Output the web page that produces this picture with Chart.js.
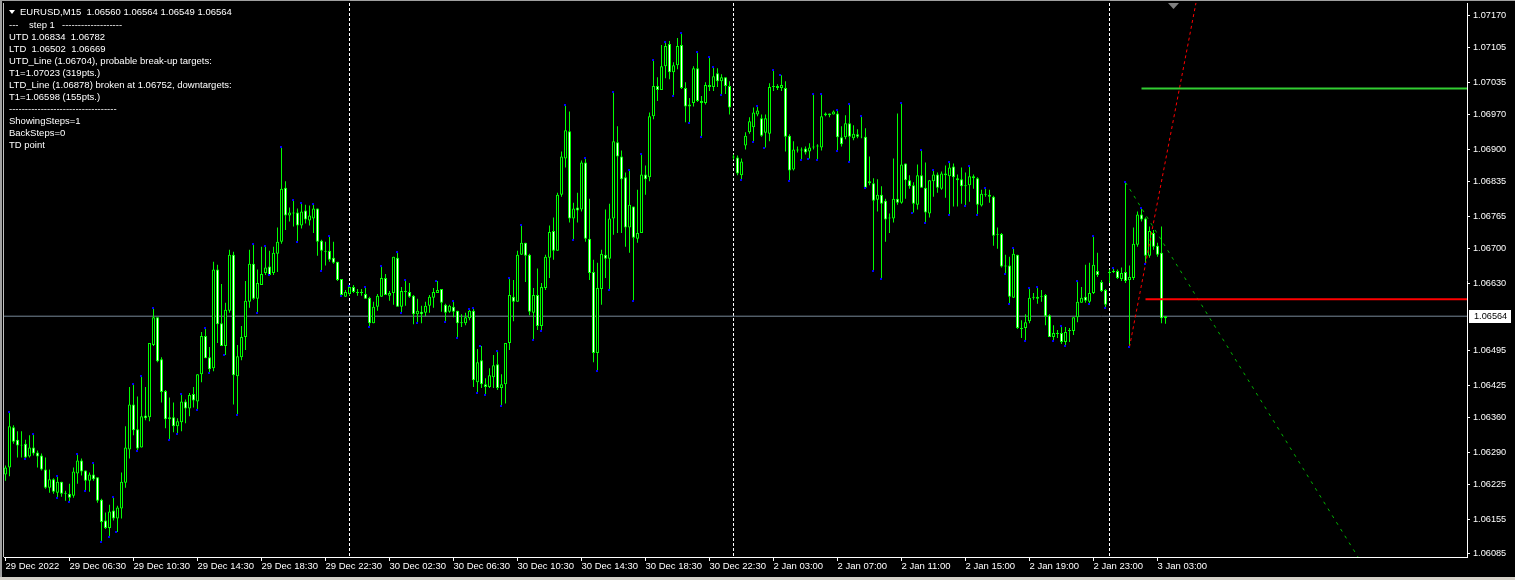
<!DOCTYPE html>
<html>
<head>
<meta charset="utf-8">
<title>EURUSD,M15</title>
<script src="https://cdn.jsdelivr.net/npm/chart.js@4.4.0/dist/chart.umd.min.js"></script>
<style>
  html, body { margin: 0; padding: 0; background: #000; overflow: hidden; }
  #wrap { position: relative; width: 1515px; height: 580px; }
</style>
</head>
<body>
<div id="wrap"><canvas id="chart" width="1515" height="580"></canvas></div>
<script>
// EURUSD M15, 29 Dec 2022 02:30 .. 3 Jan 2023 03:30, one entry per bar
const openP = [
  1.06245,1.06259,1.06340,1.06315,1.06303,1.06307,1.06281,1.06299,1.06289,1.06283,
  1.06255,1.06218,1.06235,1.06208,1.06230,1.06206,1.06206,1.06202,1.06247,1.06273,
  1.06253,1.06232,1.06245,1.06239,1.06194,1.06152,1.06137,1.06172,1.06156,1.06176,
  1.06228,1.06295,1.06386,1.06336,1.06299,1.06364,1.06360,1.06506,1.06562,1.06477,
  1.06413,1.06356,1.06360,1.06342,1.06350,1.06392,1.06378,1.06407,1.06392,1.06447,
  1.06524,1.06481,1.06459,1.06658,1.06550,1.06504,1.06575,1.06688,1.06443,1.06481,
  1.06522,1.06593,1.06670,1.06599,1.06627,1.06651,1.06664,1.06651,1.06690,1.06714,
  1.06823,1.06767,1.06773,1.06773,1.06747,1.06777,1.06757,1.06761,1.06781,1.06716,
  1.06696,1.06696,1.06682,1.06674,1.06639,1.06603,1.06609,1.06623,1.06613,1.06611,
  1.06609,1.06601,1.06550,1.06583,1.06603,1.06641,1.06605,1.06611,1.06682,1.06583,
  1.06615,1.06613,1.06605,1.06568,1.06573,1.06571,1.06585,1.06601,1.06611,1.06619,
  1.06587,1.06573,1.06583,1.06575,1.06550,1.06550,1.06560,1.06575,1.06431,1.06475,
  1.06427,1.06421,1.06441,1.06467,1.06419,1.06427,1.06510,1.06603,1.06593,1.06688,
  1.06712,1.06688,1.06571,1.06607,1.06544,1.06621,1.06682,1.06736,1.06696,1.06809,
  1.06882,1.06937,1.06761,1.06783,1.06779,1.06874,1.06720,1.06653,1.06490,1.06619,
  1.06688,1.06680,1.06761,1.06915,1.06886,1.06844,1.06743,1.06785,1.06720,1.06732,
  1.06850,1.06844,1.06967,1.07028,1.07020,1.07068,1.07113,1.07056,1.07070,1.07111,
  1.07024,1.06987,1.06994,1.07064,1.06998,1.06994,1.07030,1.07026,1.07054,1.07038,
  1.07046,1.07028,1.06886,1.06884,1.06848,1.06908,1.06935,1.06945,1.06971,1.06963,
  1.06934,1.06932,1.07026,1.07028,1.07024,1.07024,1.06928,1.06860,1.06900,1.06898,
  1.06902,1.06896,1.06904,1.06906,1.06904,1.06969,1.06973,1.06971,1.06973,1.06925,
  1.06925,1.06953,1.06923,1.06931,1.06926,1.06926,1.06832,1.06832,1.06799,1.06809,
  1.06797,1.06761,1.06761,1.06801,1.06793,1.06872,1.06838,1.06828,1.06789,1.06848,
  1.06823,1.06771,1.06836,1.06850,1.06821,1.06852,1.06846,1.06866,1.06842,1.06840,
  1.06826,1.06828,1.06846,1.06842,1.06787,1.06811,1.06809,1.06805,1.06728,1.06730,
  1.06664,1.06666,1.06601,1.06688,1.06540,1.06540,1.06554,1.06601,1.06603,1.06603,
  1.06607,1.06566,1.06522,1.06530,1.06530,1.06512,1.06534,1.06534,1.06562,1.06591,
  1.06603,1.06593,1.06611,1.06655,1.06633,1.06617,1.06651,1.06653,1.06655,1.06639,
  1.06653,1.06637,1.06641,1.06708,1.06769,1.06761,1.06686,1.06732,1.06706,1.06692,
  1.06560
];
const highP = [
  1.06263,1.06370,1.06344,1.06332,1.06332,1.06315,1.06324,1.06326,1.06293,1.06287,
  1.06279,1.06255,1.06237,1.06241,1.06230,1.06212,1.06226,1.06259,1.06287,1.06277,
  1.06253,1.06249,1.06267,1.06239,1.06196,1.06168,1.06184,1.06200,1.06182,1.06249,
  1.06342,1.06421,1.06427,1.06402,1.06443,1.06421,1.06510,1.06581,1.06562,1.06481,
  1.06415,1.06400,1.06390,1.06358,1.06407,1.06396,1.06409,1.06421,1.06447,1.06532,
  1.06540,1.06502,1.06674,1.06668,1.06629,1.06591,1.06698,1.06694,1.06506,1.06544,
  1.06635,1.06698,1.06710,1.06658,1.06704,1.06706,1.06696,1.06704,1.06743,1.06906,
  1.06836,1.06783,1.06799,1.06781,1.06793,1.06789,1.06787,1.06791,1.06781,1.06718,
  1.06714,1.06726,1.06714,1.06674,1.06639,1.06617,1.06625,1.06627,1.06619,1.06619,
  1.06623,1.06603,1.06593,1.06609,1.06666,1.06649,1.06615,1.06684,1.06694,1.06623,
  1.06637,1.06631,1.06607,1.06599,1.06585,1.06593,1.06607,1.06621,1.06635,1.06619,
  1.06589,1.06587,1.06595,1.06575,1.06568,1.06571,1.06579,1.06581,1.06498,1.06504,
  1.06439,1.06459,1.06486,1.06494,1.06447,1.06510,1.06641,1.06637,1.06696,1.06747,
  1.06712,1.06690,1.06621,1.06660,1.06631,1.06688,1.06747,1.06763,1.06813,1.06896,
  1.06989,1.06977,1.06793,1.06813,1.06878,1.06884,1.06801,1.06678,1.06672,1.06698,
  1.06779,1.06791,1.07016,1.06947,1.06898,1.06854,1.06858,1.06785,1.06819,1.06892,
  1.06868,1.06975,1.07081,1.07046,1.07111,1.07117,1.07119,1.07076,1.07125,1.07135,
  1.07036,1.07004,1.07068,1.07097,1.07008,1.07036,1.07087,1.07066,1.07064,1.07052,
  1.07046,1.07038,1.06890,1.06888,1.06882,1.06935,1.06965,1.06985,1.06987,1.06971,
  1.06971,1.07034,1.07060,1.07032,1.07050,1.07038,1.06931,1.06917,1.06906,1.06904,
  1.06906,1.06913,1.07012,1.06911,1.07012,1.06975,1.06973,1.06979,1.06979,1.06947,
  1.06969,1.06991,1.06949,1.06941,1.06967,1.06943,1.06886,1.06842,1.06840,1.06826,
  1.06801,1.06771,1.06882,1.06973,1.06994,1.06872,1.06848,1.06834,1.06870,1.06900,
  1.06874,1.06838,1.06858,1.06854,1.06856,1.06868,1.06874,1.06872,1.06850,1.06864,
  1.06854,1.06866,1.06850,1.06844,1.06819,1.06823,1.06819,1.06807,1.06743,1.06732,
  1.06688,1.06684,1.06702,1.06688,1.06556,1.06568,1.06621,1.06611,1.06623,1.06617,
  1.06609,1.06568,1.06546,1.06536,1.06544,1.06542,1.06540,1.06562,1.06635,1.06623,
  1.06668,1.06672,1.06726,1.06692,1.06637,1.06619,1.06658,1.06662,1.06658,1.06662,
  1.06834,1.06666,1.06743,1.06775,1.06782,1.06763,1.06745,1.06738,1.06712,1.06745,
  1.06564
];
const lowP = [
  1.06232,1.06241,1.06307,1.06279,1.06279,1.06277,1.06279,1.06283,1.06259,1.06253,
  1.06216,1.06208,1.06206,1.06198,1.06200,1.06192,1.06190,1.06198,1.06226,1.06243,
  1.06212,1.06210,1.06232,1.06188,1.06109,1.06135,1.06119,1.06152,1.06129,1.06156,
  1.06218,1.06277,1.06324,1.06293,1.06299,1.06354,1.06352,1.06504,1.06471,1.06390,
  1.06338,1.06315,1.06330,1.06326,1.06332,1.06348,1.06362,1.06380,1.06374,1.06431,
  1.06479,1.06449,1.06453,1.06510,1.06504,1.06486,1.06571,1.06386,1.06364,1.06475,
  1.06496,1.06581,1.06597,1.06571,1.06627,1.06647,1.06647,1.06647,1.06653,1.06710,
  1.06738,1.06755,1.06745,1.06714,1.06741,1.06751,1.06747,1.06732,1.06686,1.06655,
  1.06666,1.06674,1.06670,1.06635,1.06605,1.06603,1.06605,1.06611,1.06605,1.06605,
  1.06599,1.06542,1.06550,1.06575,1.06603,1.06607,1.06595,1.06587,1.06583,1.06571,
  1.06585,1.06601,1.06548,1.06550,1.06550,1.06564,1.06571,1.06581,1.06611,1.06573,
  1.06552,1.06571,1.06562,1.06520,1.06542,1.06546,1.06556,1.06421,1.06409,1.06419,
  1.06405,1.06419,1.06419,1.06415,1.06382,1.06388,1.06496,1.06554,1.06593,1.06688,
  1.06633,1.06566,1.06516,1.06536,1.06534,1.06617,1.06641,1.06678,1.06696,1.06805,
  1.06864,1.06753,1.06718,1.06753,1.06775,1.06714,1.06637,1.06471,1.06453,1.06587,
  1.06641,1.06617,1.06728,1.06732,1.06732,1.06704,1.06692,1.06595,1.06712,1.06732,
  1.06809,1.06836,1.06961,1.06998,1.07020,1.07044,1.07042,1.07008,1.07062,1.07022,
  1.06955,1.06953,1.06987,1.06996,1.06925,1.06991,1.07018,1.07018,1.07026,1.07010,
  1.07012,1.06971,1.06880,1.06848,1.06838,1.06900,1.06932,1.06915,1.06967,1.06926,
  1.06904,1.06917,1.07018,1.07020,1.07018,1.06896,1.06836,1.06858,1.06894,1.06880,
  1.06890,1.06882,1.06900,1.06878,1.06898,1.06967,1.06965,1.06971,1.06898,1.06906,
  1.06921,1.06874,1.06919,1.06923,1.06923,1.06823,1.06828,1.06655,1.06775,1.06639,
  1.06714,1.06732,1.06753,1.06789,1.06791,1.06801,1.06821,1.06773,1.06779,1.06823,
  1.06751,1.06763,1.06805,1.06813,1.06819,1.06803,1.06769,1.06785,1.06785,1.06791,
  1.06787,1.06795,1.06821,1.06769,1.06785,1.06805,1.06793,1.06706,1.06700,1.06662,
  1.06649,1.06589,1.06601,1.06538,1.06520,1.06514,1.06550,1.06597,1.06589,1.06593,
  1.06546,1.06522,1.06514,1.06520,1.06508,1.06504,1.06512,1.06526,1.06552,1.06591,
  1.06591,1.06589,1.06609,1.06643,1.06613,1.06581,1.06631,1.06651,1.06639,1.06635,
  1.06631,1.06502,1.06637,1.06704,1.06755,1.06669,1.06682,1.06698,1.06684,1.06550,
  1.06549
];
const closeP = [
  1.06259,1.06342,1.06311,1.06303,1.06305,1.06279,1.06299,1.06287,1.06281,1.06255,
  1.06218,1.06235,1.06210,1.06230,1.06206,1.06208,1.06198,1.06251,1.06273,1.06251,
  1.06232,1.06245,1.06235,1.06192,1.06149,1.06137,1.06170,1.06156,1.06178,1.06230,
  1.06299,1.06386,1.06334,1.06297,1.06362,1.06358,1.06510,1.06562,1.06473,1.06411,
  1.06356,1.06360,1.06342,1.06352,1.06392,1.06378,1.06405,1.06394,1.06447,1.06524,
  1.06479,1.06457,1.06658,1.06548,1.06504,1.06577,1.06688,1.06445,1.06483,1.06522,
  1.06595,1.06670,1.06599,1.06631,1.06649,1.06662,1.06647,1.06692,1.06714,1.06821,
  1.06767,1.06773,1.06771,1.06747,1.06775,1.06759,1.06767,1.06781,1.06714,1.06696,
  1.06694,1.06678,1.06672,1.06637,1.06607,1.06613,1.06623,1.06613,1.06611,1.06613,
  1.06599,1.06550,1.06583,1.06605,1.06641,1.06607,1.06611,1.06684,1.06583,1.06615,
  1.06613,1.06603,1.06568,1.06575,1.06568,1.06585,1.06603,1.06613,1.06617,1.06591,
  1.06571,1.06585,1.06573,1.06550,1.06552,1.06562,1.06575,1.06435,1.06471,1.06427,
  1.06421,1.06445,1.06465,1.06419,1.06427,1.06510,1.06607,1.06593,1.06688,1.06712,
  1.06686,1.06573,1.06607,1.06544,1.06623,1.06684,1.06734,1.06696,1.06809,1.06886,
  1.06939,1.06761,1.06781,1.06777,1.06874,1.06720,1.06651,1.06490,1.06621,1.06690,
  1.06680,1.06761,1.06917,1.06886,1.06840,1.06743,1.06789,1.06722,1.06732,1.06850,
  1.06840,1.06967,1.07028,1.07020,1.07068,1.07109,1.07056,1.07070,1.07109,1.07024,
  1.06987,1.06991,1.07064,1.06998,1.06994,1.07030,1.07026,1.07048,1.07038,1.07046,
  1.07028,1.06985,1.06884,1.06852,1.06876,1.06928,1.06957,1.06975,1.06979,1.06928,
  1.06963,1.07026,1.07028,1.07024,1.07030,1.06926,1.06858,1.06900,1.06898,1.06900,
  1.06894,1.06904,1.06906,1.06908,1.06967,1.06973,1.06969,1.06977,1.06925,1.06911,
  1.06953,1.06926,1.06932,1.06926,1.06925,1.06823,1.06836,1.06797,1.06809,1.06791,
  1.06759,1.06763,1.06801,1.06793,1.06870,1.06838,1.06826,1.06791,1.06848,1.06823,
  1.06773,1.06838,1.06850,1.06823,1.06852,1.06848,1.06864,1.06844,1.06838,1.06826,
  1.06828,1.06846,1.06842,1.06789,1.06811,1.06809,1.06805,1.06726,1.06730,1.06664,
  1.06666,1.06603,1.06690,1.06540,1.06538,1.06552,1.06601,1.06603,1.06599,1.06605,
  1.06564,1.06522,1.06530,1.06528,1.06512,1.06532,1.06536,1.06562,1.06593,1.06601,
  1.06595,1.06611,1.06668,1.06647,1.06615,1.06587,1.06653,1.06655,1.06641,1.06651,
  1.06635,1.06643,1.06710,1.06769,1.06759,1.06686,1.06736,1.06704,1.06688,1.06560,
  1.06564
];

// time axis: bar index of each label and its text
const xTickIdx = [0, 16, 32, 48, 64, 80, 96, 112, 128, 144, 160, 176, 192, 208, 224, 240, 256, 272, 288];
const xTickLabels = ['29 Dec 2022', '29 Dec 06:30', '29 Dec 10:30', '29 Dec 14:30', '29 Dec 18:30',
  '29 Dec 22:30', '30 Dec 02:30', '30 Dec 06:30', '30 Dec 10:30', '30 Dec 14:30', '30 Dec 18:30',
  '30 Dec 22:30', '2 Jan 03:00', '2 Jan 07:00', '2 Jan 11:00', '2 Jan 15:00', '2 Jan 19:00',
  '2 Jan 23:00', '3 Jan 03:00'];
const daySeparators = [86, 182, 276];

// price axis
const yTicks = [1.07170, 1.07105, 1.07035, 1.06970, 1.06900, 1.06835, 1.06765, 1.06700, 1.06630,
  1.06495, 1.06425, 1.06360, 1.06290, 1.06225, 1.06155, 1.06085];
const yMin = 1.060784, yMax = 1.071956;
const xMin = -0.375, xMax = 365.375;

// TD points (bar indexes)
const tdHighIdx = [1,7,13,18,22,27,32,34,37,44,50,62,65,69,72,74,77,81,86,90,94,98,100,108,112,116,117,
  119,123,126,129,140,145,152,156,159,162,165,169,173,176,177,188,192,194,202,204,208,211,214,224,229,
  232,236,241,245,252,256,258,264,268,272,277,280,284];
const tdLowIdx = [5,13,16,20,24,26,28,33,41,43,48,51,55,58,63,66,73,79,84,91,99,103,110,113,118,120,124,
  132,134,142,148,151,157,167,171,174,179,184,187,190,196,199,201,203,208,211,215,217,219,227,230,236,
  240,243,250,251,255,262,265,271,275,281,285];

// trend lines through TD points and the targets
const utdIdx = [280, 284], utdVal = [1.06834, 1.06782];
const ltdIdx = [281, 285], ltdVal = [1.06502, 1.06669];
const upTarget = 1.07023, upTargetFrom = 284;
const downTarget = 1.06598, downTargetFrom = 285;

const last = closeP.length - 1;
const infoLines = [
  'UTD 1.06834  1.06782',
  'LTD  1.06502  1.06669',
  'UTD_Line (1.06704), probable break-up targets:',
  'T1=1.07023 (319pts.)',
  'LTD_Line (1.06878) broken at 1.06752, downtargets:',
  'T1=1.06598 (155pts.)'
];
const infoTail = ['ShowingSteps=1', 'BackSteps=0', 'TD point'];

const FONT = "'Liberation Sans', Arial, sans-serif";
const CANDLE = '#00ff00';

function extendLine(idx, val, xEnd) {
  const slope = (val[1] - val[0]) / (idx[1] - idx[0]);
  return [{x: idx[0], y: val[0]}, {x: xEnd, y: val[0] + slope * (xEnd - idx[0])}];
}

const bars = closeP.map((c, i) => i);

const mtPlugin = {
  id: 'mt4',
  beforeDraw(chart) {
    const ctx = chart.ctx;
    ctx.save();
    ctx.fillStyle = '#000';
    ctx.fillRect(0, 0, chart.width, chart.height);
    ctx.restore();
  },
  beforeDatasetsDraw(chart) {
    const ctx = chart.ctx, a = chart.chartArea, xs = chart.scales.x;
    ctx.save();
    ctx.strokeStyle = '#ffffff';
    ctx.lineWidth = 1;
    ctx.setLineDash([3, 2]);
    daySeparators.forEach(i => {
      const x = Math.round(xs.getPixelForValue(i) - 0.5) + 0.5;
      ctx.beginPath();
      ctx.moveTo(x, a.top);
      ctx.lineTo(x, a.bottom);
      ctx.stroke();
    });
    ctx.restore();
  },
  afterDatasetsDraw(chart) {
    const ctx = chart.ctx, xs = chart.scales.x, ys = chart.scales.y;
    ctx.save();
    ctx.fillStyle = '#0000ff';
    tdHighIdx.forEach(i => {
      ctx.fillRect(Math.round(xs.getPixelForValue(i)) - 2, Math.round(ys.getPixelForValue(highP[i])) - 1, 2, 2);
    });
    tdLowIdx.forEach(i => {
      ctx.fillRect(Math.round(xs.getPixelForValue(i)) - 2, Math.round(ys.getPixelForValue(lowP[i])) - 1, 2, 2);
    });
    ctx.restore();
  },
  afterDraw(chart) {
    const ctx = chart.ctx, ys = chart.scales.y, a = chart.chartArea;
    ctx.save();
    // window frame
    ctx.fillStyle = '#a0a0a0';
    ctx.fillRect(0, 0, chart.width, 1);
    ctx.fillRect(0, 0, 2, chart.height);
    ctx.fillStyle = '#d4d0c8';
    ctx.fillRect(0, 577, chart.width, 3);
    ctx.fillStyle = '#c0c0c0';
    ctx.fillRect(3, a.top, 1, a.bottom - a.top);

    // shift marker
    ctx.fillStyle = '#808080';
    ctx.beginPath();
    ctx.moveTo(1168, 3);
    ctx.lineTo(1179, 3);
    ctx.lineTo(1173.5, 9);
    ctx.closePath();
    ctx.fill();

    // last price label
    const py = Math.round(ys.getPixelForValue(closeP[last]));
    ctx.fillStyle = '#ffffff';
    ctx.fillRect(1469, py - 6, 42, 13);
    ctx.fillStyle = '#000000';
    ctx.font = '9.2px ' + FONT;
    ctx.textBaseline = 'middle';
    ctx.fillText(closeP[last].toFixed(5), 1474, py + 0.5);

    // info block
    ctx.fillStyle = '#ffffff';
    ctx.font = '9.5px ' + FONT;
    ctx.beginPath();
    ctx.moveTo(9, 10);
    ctx.lineTo(15, 10);
    ctx.lineTo(12, 14);
    ctx.closePath();
    ctx.fill();
    ctx.fillText('EURUSD,M15  ' + [openP[last], highP[last], lowP[last], closeP[last]].map(v => v.toFixed(5)).join(' '), 20, 12.5);
    ctx.fillText('---', 9, 25);
    ctx.fillText('step 1', 29, 25);
    ctx.fillText('-'.repeat(19), 62, 25);
    infoLines.forEach((t, k) => ctx.fillText(t, 9, 37 + 12 * k));
    ctx.fillText('-'.repeat(34), 9, 109);
    infoTail.forEach((t, k) => ctx.fillText(t, 9, 121 + 12 * k));
    ctx.restore();
  }
};

new Chart(document.getElementById('chart'), {
  type: 'bar',
  data: {
    datasets: [
      {
        label: 'Bid',
        type: 'line',
        data: [{x: xMin, y: closeP[last]}, {x: xMax, y: closeP[last]}],
        borderColor: '#778899',
        borderWidth: 1,
        pointRadius: 0,
        order: 5
      },
      {
        label: 'Wicks',
        data: bars.map(i => ({x: i, y: [lowP[i], highP[i]]})),
        backgroundColor: CANDLE,
        borderWidth: 0,
        barThickness: 1,
        grouped: false,
        inflateAmount: 0,
        order: 4
      },
      {
        label: 'Bodies',
        data: bars.map(i => ({x: i, y: [openP[i], closeP[i]]})),
        backgroundColor: bars.map(i => closeP[i] >= openP[i] ? '#000000' : '#ffffff'),
        borderColor: CANDLE,
        borderWidth: 1,
        borderSkipped: false,
        barThickness: 3,
        grouped: false,
        inflateAmount: 0,
        order: 3
      },
      {
        label: 'UTD line',
        type: 'line',
        data: extendLine(utdIdx, utdVal, xMax),
        borderColor: '#00b400',
        borderWidth: 1,
        borderDash: [3, 5],
        pointRadius: 0,
        order: 2
      },
      {
        label: 'LTD line',
        type: 'line',
        data: extendLine(ltdIdx, ltdVal, xMax),
        borderColor: '#ff0000',
        borderWidth: 1,
        borderDash: [3, 3],
        pointRadius: 0,
        order: 2
      },
      {
        label: 'Up target',
        type: 'line',
        data: [{x: upTargetFrom, y: upTarget}, {x: xMax, y: upTarget}],
        borderColor: '#32cd32',
        borderWidth: 2,
        pointRadius: 0,
        order: 1
      },
      {
        label: 'Down target',
        type: 'line',
        data: [{x: downTargetFrom, y: downTarget}, {x: xMax, y: downTarget}],
        borderColor: '#ff0000',
        borderWidth: 2,
        pointRadius: 0,
        order: 1
      }
    ]
  },
  options: {
    responsive: false,
    animation: false,
    devicePixelRatio: 1,
    events: [],
    layout: { padding: { left: 4, top: 3, right: 0, bottom: 0 } },
    plugins: { legend: { display: false }, tooltip: { enabled: false } },
    scales: {
      x: {
        type: 'linear',
        min: xMin,
        max: xMax,
        offset: false,
        afterBuildTicks: s => { s.ticks = xTickIdx.map(v => ({value: v})); },
        afterFit: s => { s.height = 23; s.paddingLeft = 0; s.paddingRight = 0; },
        ticks: {
          color: '#ffffff',
          font: { family: FONT, size: 9.5 },
          align: 'start',
          padding: 0,
          maxRotation: 0,
          autoSkip: false,
          callback: (v, i) => xTickLabels[i]
        },
        grid: { drawOnChartArea: false, offset: false, color: '#ffffff', tickLength: 4 },
        border: { color: '#ffffff' }
      },
      y: {
        position: 'right',
        min: yMin,
        max: yMax,
        afterBuildTicks: s => { s.ticks = yTicks.map(v => ({value: v})); },
        afterFit: s => { s.width = 48; s.paddingTop = 0; s.paddingBottom = 0; },
        ticks: {
          color: '#ffffff',
          font: { family: FONT, size: 9.2 },
          padding: 3,
          callback: v => v.toFixed(5)
        },
        grid: { drawOnChartArea: false, color: '#ffffff', tickLength: 3 },
        border: { color: '#ffffff' }
      }
    }
  },
  plugins: [mtPlugin]
});
</script>
</body>
</html>
